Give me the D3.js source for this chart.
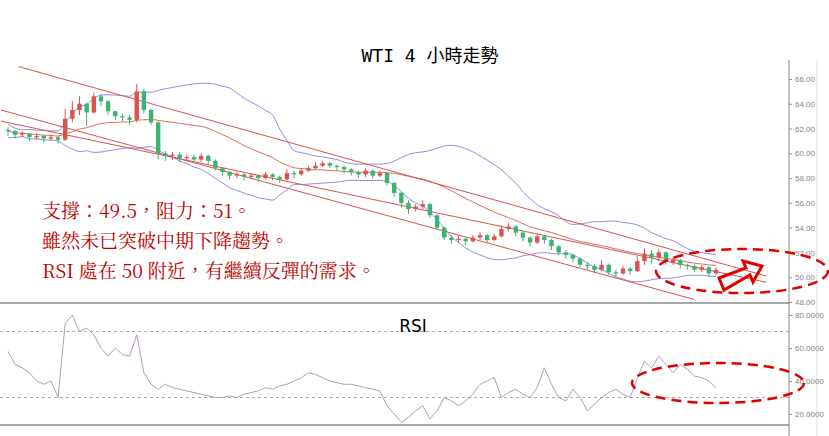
<!DOCTYPE html>
<html><head><meta charset="utf-8">
<script src="https://cdn.jsdelivr.net/npm/d3@7"></script>
<style>body{margin:0;background:#fff}svg{display:block}</style>
</head><body><div class="chart"></div>
<script>
// WTI 4H candles
const closes = [61.8,61.5,61.6,61.3,61.4,61.2,61.3,61.1,62.8,63.5,64.0,63.3,64.6,64.2,63.4,63.0,62.9,62.7,65.0,63.5,
  62.5,60.0,59.8,59.9,59.6,59.7,59.5,59.8,59.4,58.8,58.5,58.2,58.3,58.1,58.2,58.0,58.3,58.1,57.9,58.4,
  58.3,58.6,58.8,59.0,59.2,59.0,58.9,58.7,58.5,58.3,58.6,58.2,58.4,57.6,56.8,56.0,55.5,55.7,55.9,55.0,
  54.0,53.2,53.0,53.1,52.9,53.2,53.4,53.0,53.3,53.9,54.1,53.6,53.2,52.8,53.3,53.0,52.5,52.0,51.8,51.5,
  51.0,50.9,50.6,51.0,50.4,50.3,50.7,50.5,51.3,51.9,51.6,52.0,51.2,51.4,51.0,50.9,50.6,50.8,50.3,50.6];
const opens = [61.9].concat(closes.slice(0, -1));
const highs = [62.1,61.9,61.8,61.6,61.6,61.5,61.5,61.4,63.6,64.2,64.6,64.1,64.9,64.8,64.3,63.4,63.2,63.1,65.6,65.2,
  63.6,62.6,60.2,60.1,60.1,59.9,59.9,60.0,59.9,59.5,58.9,58.6,58.5,58.4,58.4,58.3,58.5,58.4,58.2,58.7,
  58.6,58.8,59.0,59.3,59.4,59.3,59.1,59.0,58.8,58.6,58.8,58.7,58.6,58.5,57.7,56.9,56.2,55.9,56.2,56.0,
  55.1,54.1,53.4,53.3,53.2,53.4,53.6,53.5,53.5,54.2,54.4,54.2,53.7,53.3,53.5,53.4,53.1,52.6,52.2,51.9,
  51.6,51.2,51.1,51.4,51.1,50.6,50.9,50.8,51.7,52.3,52.2,52.3,52.1,51.6,51.5,51.1,51.0,51.0,50.9,50.8];
const lows = [61.4,61.2,61.3,61.0,61.1,60.9,61.0,60.8,61.0,62.5,63.1,62.2,63.2,63.8,63.1,62.7,62.6,62.3,62.5,63.2,
  62.3,59.5,59.4,59.5,59.3,59.4,59.2,59.3,59.1,58.6,58.2,57.9,58.0,57.8,57.9,57.7,57.9,57.8,57.6,57.8,
  58.0,58.2,58.5,58.7,58.9,58.8,58.6,58.4,58.2,58.0,58.1,58.0,58.1,57.4,56.5,55.6,55.1,55.3,55.5,54.8,
  53.8,53.0,52.7,52.8,52.6,52.8,53.0,52.8,52.9,53.2,53.7,53.3,52.9,52.5,52.7,52.7,52.2,51.8,51.5,51.2,
  50.8,50.6,50.3,50.5,50.2,50.0,50.2,50.2,50.4,51.0,51.1,51.3,51.0,51.0,50.7,50.6,50.4,50.4,50.0,50.2];
const rsiValues = [58,50,48,45,40,38,40,30,75,80,70,72,68,60,55,60,56,55,68,45,
  38,35,38,36,35,34,33,32,31,30,30,31,30,32,33,34,36,35,37,38,
  40,42,45,44,42,40,39,38,38,37,36,35,34,25,20,15,18,22,25,17,
  22,30,28,25,28,32,38,40,42,30,33,35,32,30,36,48,38,30,28,35,
  30,22,26,30,33,35,32,30,42,52,48,55,50,45,50,47,43,42,40,36];
const priceTicks = [48,50,52,54,56,58,60,62,64,66];
const rsiTicks = [20,40,60,80];
const rsiGuides = [30,70];
// channel lines: [startIndex, startPrice, endIndex, endPrice]
const channels = [[1.5,67.0,106,50.1],[-1,63.5,96,48.2],[-1,62.6,106,49.6]];
const notes = ['支撐：49.5，阻力：51。','雖然未已突破中期下降趨勢。','RSI 處在 50 附近，有繼續反彈的需求。'];

const W = 829, H = 436;
const svg = d3.select('.chart').append('svg').attr('width', W).attr('height', H)
  .style('font-family', 'DejaVu Sans, sans-serif');

const x = d3.scaleLinear().domain([0, closes.length - 1]).range([8, 716]);
const y = d3.scaleLinear().domain([48, 66]).range([302, 79]);
const yr = d3.scaleLinear().domain([20, 80]).range([414, 315]);
const cw = 4.4;

// frame lines
svg.append('line').attr('x1', 789).attr('x2', 789).attr('y1', 60).attr('y2', 436).attr('stroke', '#888');
svg.append('line').attr('x1', 817).attr('x2', 817).attr('y1', 60).attr('y2', 436).attr('stroke', '#ddd');
svg.append('line').attr('x1', 0).attr('x2', 789).attr('y1', 303).attr('y2', 303).attr('stroke', '#555');
svg.append('line').attr('x1', 0).attr('x2', 789).attr('y1', 425).attr('y2', 425).attr('stroke', '#555');

// axes
const ya = svg.append('g').attr('transform', 'translate(789,0)')
  .call(d3.axisRight(y).tickValues(priceTicks).tickSize(3).tickFormat(d3.format('.2f')));
const ra = svg.append('g').attr('transform', 'translate(789,0)')
  .call(d3.axisRight(yr).tickValues(rsiTicks).tickSize(3).tickFormat(d3.format('.4f')));
[ya, ra].forEach(a => {
  a.select('.domain').remove();
  a.selectAll('line').attr('stroke', '#999');
  a.selectAll('text').attr('fill', '#888').style('font-size', '8px');
});

// bollinger (20, 2)
const boll = closes.map((c, i) => {
  const w = closes.slice(Math.max(0, i - 19), i + 1);
  const m = d3.mean(w), s = d3.deviation(w) || 0.3;
  return {m, u: m + 1.8 * s, l: m - 1.8 * s};
});
const line = k => d3.line().x((d, i) => x(i)).y(d => y(d[k])).curve(d3.curveMonotoneX);
svg.append('path').datum(boll).attr('d', line('u')).attr('fill', 'none').attr('stroke', '#8f8fd8');
svg.append('path').datum(boll).attr('d', line('l')).attr('fill', 'none').attr('stroke', '#8f8fd8');
svg.append('path').datum(boll).attr('d', line('m')).attr('fill', 'none').attr('stroke', '#d9705a');

svg.selectAll('.ch').data(channels).enter().append('line')
  .attr('x1', d => x(d[0])).attr('y1', d => y(d[1]))
  .attr('x2', d => x(d[2])).attr('y2', d => y(d[3]))
  .attr('stroke', '#d9534f').attr('stroke-width', 1);

// candles
const g = svg.append('g');
const idx = d3.range(closes.length);
const col = i => closes[i] >= opens[i] ? '#d9534f' : '#3cb371';
g.selectAll('.wick').data(idx).enter().append('line')
  .attr('x1', i => x(i)).attr('x2', i => x(i))
  .attr('y1', i => y(highs[i])).attr('y2', i => y(lows[i]))
  .attr('stroke', col);
g.selectAll('.body').data(idx).enter().append('rect')
  .attr('x', i => x(i) - cw / 2).attr('width', cw)
  .attr('y', i => y(Math.max(opens[i], closes[i])))
  .attr('height', i => Math.max(1, Math.abs(y(opens[i]) - y(closes[i]))))
  .attr('fill', col);

// RSI
svg.selectAll('.guide').data(rsiGuides).enter().append('line')
  .attr('x1', 0).attr('x2', 789).attr('y1', d => yr(d)).attr('y2', d => yr(d))
  .attr('stroke', '#aaa').attr('stroke-dasharray', '3,3');
svg.append('path').datum(rsiValues)
  .attr('d', d3.line().x((d, i) => x(i)).y(d => yr(d)))
  .attr('fill', 'none').attr('stroke', '#b49ac0');
svg.append('text').attr('x', 413).attr('y', 332).attr('text-anchor', 'middle')
  .style('font-size', '17px').text('RSI');

// title
svg.append('text').attr('x', 430).attr('y', 62).attr('text-anchor', 'middle')
  .style('font-family', 'DejaVu Sans Mono, Noto Sans CJK TC').style('font-size', '18px').text('WTI 4 小時走勢');

// notes
svg.selectAll('.note').data(notes).enter().append('text')
  .attr('x', 42).attr('y', (d, i) => 218 + i * 30)
  .style('font-family', 'Noto Serif CJK TC, Noto Sans CJK TC, serif').style('font-size', '19px')
  .attr('fill', '#c00000').text(d => d);

// annotations
const ann = svg.append('g').attr('fill', 'none').attr('stroke', '#e00000');
ann.append('ellipse').attr('cx', 742).attr('cy', 271).attr('rx', 86).attr('ry', 22)
  .attr('stroke-width', 2.5).attr('stroke-dasharray', '10,6');
ann.append('ellipse').attr('cx', 718).attr('cy', 383).attr('rx', 86).attr('ry', 20)
  .attr('stroke-width', 2.5).attr('stroke-dasharray', '10,6');
ann.append('polygon').attr('stroke-width', 3).attr('stroke-linejoin', 'miter')
  .attr('points', '719,278 746,268 743,261 762,266 753,282 750,275 724,290');
</script></body></html>
